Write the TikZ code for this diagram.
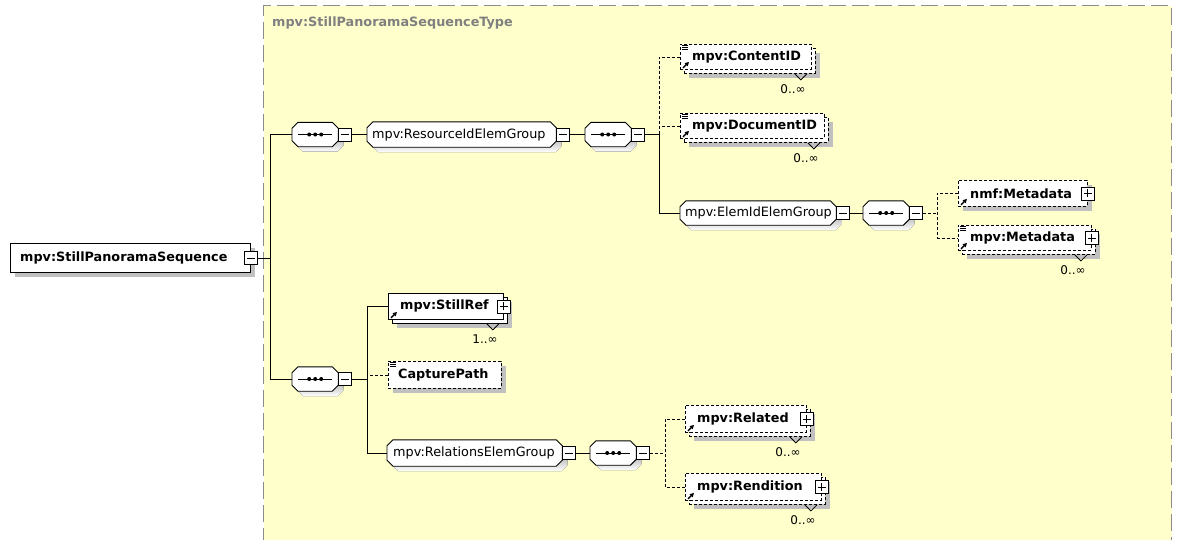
\documentclass[tikz,border=0pt]{standalone}
\usepackage{fontspec}
\setmainfont{DejaVu Sans}
\usetikzlibrary{shadows,arrows.meta}

\definecolor{panel}{HTML}{FFFFCC}
\definecolor{panelline}{HTML}{8C8C8C}
\definecolor{shade}{HTML}{C0C0C0}
\definecolor{titlegray}{HTML}{808080}

% outline of a box with cut corners, laid over node #1, moved by (#2,#2)
\newcommand\cutcornerpath[2]{%
  ([shift={(6+#2,#2)}]#1.north west) -- ([shift={(-6+#2,#2)}]#1.north east)
  -- ([shift={(#2,6+#2)}]#1.north east) -- ([shift={(#2,-6+#2)}]#1.south east)
  -- ([shift={(-6+#2,#2)}]#1.south east) -- ([shift={(6+#2,#2)}]#1.south west)
  -- ([shift={(#2,-6+#2)}]#1.south west) -- ([shift={(#2,6+#2)}]#1.north west) -- cycle}
% shadowed cut-corner frame for a compositor or group node
\newcommand\cutcornerframe[1]{%
  \fill[shade] \cutcornerpath{#1}{5};
  \filldraw[fill=white, line width=0.9pt] \cutcornerpath{#1}{0};}
% sequence symbol: a bar with three dots
\newcommand\seqsymbol[1]{%
  \draw[line width=1pt] ([xshift=6pt]#1.west) -- ([xshift=-6pt]#1.east);
  \foreach \d in {-6,0,6} \fill ([xshift=\d pt]#1.center) circle (2pt);}

\tikzset{
  shadowed/.style={drop shadow={shadow xshift=5pt,shadow yshift=-5pt,fill=shade,opacity=1}},
  panelbox/.style={rectangle, fill=panel, draw=panelline, line width=1pt,
    dash pattern=on 17pt off 6pt, inner sep=0pt, anchor=north west},
  box/.style={rectangle, draw, fill=white, inner sep=0pt, anchor=north west, line width=0.9pt},
  optbox/.style={box, dash pattern=on 3pt off 2pt},
  ename/.style={anchor=west, inner sep=0pt, font=\bfseries\fontsize{12.8}{15}\selectfont},
  gname/.style={anchor=west, inner sep=0pt, font=\fontsize{12.8}{15}\selectfont},
  mult/.style={anchor=base east, inner sep=0pt, font=\fontsize{12}{14}\selectfont},
  btn/.style={rectangle, draw, fill=white, minimum size=13pt, inner sep=0pt, line width=0.9pt},
  minusbtn/.style={btn, path picture={
      \draw[line width=0.9pt] ([xshift=2.5pt]path picture bounding box.west)
        -- ([xshift=-2.5pt]path picture bounding box.east);}},
  plusbtn/.style={btn, path picture={
      \draw[line width=0.9pt] ([xshift=2.5pt]path picture bounding box.west)
        -- ([xshift=-2.5pt]path picture bounding box.east);
      \draw[line width=0.9pt] ([yshift=-2.5pt]path picture bounding box.north)
        -- ([yshift=2.5pt]path picture bounding box.south);}},
  compositor/.style={rectangle, inner sep=0pt, anchor=west},
  seqbox/.style={compositor, minimum width=46pt, minimum height=24pt},
  wire/.style={line width=0.9pt},
  optwire/.style={wire, dash pattern=on 3pt off 2pt},
  docmark/.pic={\draw[line width=0.7pt] (0,0) -- (6,0) (0,2) -- (6,2) (0,4) -- (6,4);},
  refmark/.pic={\draw[line width=1.3pt, -{Triangle[length=4pt,width=4pt]}] (0,0) -- (6,-6);},
  notch/.pic={\draw[line width=0.8pt] (-6,0) -- (0,6) -- (6,0);},
}

\begin{document}
\begin{tikzpicture}[x=1pt,y=-1pt]
\useasboundingbox (0,0) rectangle (1179,539);
\fill[white] (0,0) rectangle (1179,539);

% complex type area
\node[panelbox, minimum width=908pt, minimum height=560pt] (typePanel) at (263,5) {};
\node[anchor=west, inner sep=0pt, text=titlegray,
      font=\bfseries\fontsize{12.8}{15}\selectfont] (typeTitle) at (272,23) {mpv:StillPanoramaSequenceType};

% root element
\node[box, shadowed, minimum width=240pt, minimum height=29pt] (root) at (10,243) {};
\node[ename] (rootT) at ([xshift=10pt]root.west) {mpv:StillPanoramaSequence};
\node[minusbtn] (rootB) at (root.east) {};

% first sequence
\node[seqbox] (seqA) at (292,134.5) {};
\cutcornerframe{seqA} \seqsymbol{seqA}
\node[minusbtn, anchor=west] (seqAB) at (seqA.east) {};

\node[compositor, minimum width=189pt, minimum height=25pt] (resG) at (367,134.5) {};
\cutcornerframe{resG}
\node[gname] (resGT) at ([xshift=5pt]resG.west) {mpv:ResourceIdElemGroup};
\node[minusbtn, anchor=west] (resGB) at (resG.east) {};

\node[seqbox] (seqC) at (585,134.5) {};
\cutcornerframe{seqC} \seqsymbol{seqC}
\node[minusbtn, anchor=west] (seqCB) at (seqC.east) {};

% mpv:ContentID
\node[optbox, shadowed, minimum width=131pt, minimum height=25pt] (cidB) at (684,48) {};
\node[optbox, minimum width=131pt, minimum height=25pt] (cidF) at (680,44) {};
\node[ename] (cidT) at ([xshift=12pt]cidF.west) {mpv:ContentID};
\pic at ([shift={(2,1.5)}]cidF.north west) {docmark};
\pic at ([shift={(3,-2)}]cidF.south west) {refmark};
\pic at ([xshift=-15pt]cidB.south east) {notch};
\node[mult] (cidM) at ([shift={(-10,20)}]cidB.south east) {0..∞};

% mpv:DocumentID
\node[optbox, shadowed, minimum width=144pt, minimum height=25pt] (didB) at (684,117) {};
\node[optbox, minimum width=144pt, minimum height=25pt] (didF) at (680,113) {};
\node[ename] (didT) at ([xshift=12pt]didF.west) {mpv:DocumentID};
\pic at ([shift={(2,1.5)}]didF.north west) {docmark};
\pic at ([shift={(3,-2)}]didF.south west) {refmark};
\pic at ([xshift=-15pt]didB.south east) {notch};
\node[mult] (didM) at ([shift={(-10,20)}]didB.south east) {0..∞};

% mpv:ElemIdElemGroup
\node[compositor, minimum width=156pt, minimum height=24pt] (elemG) at (680,213) {};
\cutcornerframe{elemG}
\node[gname] (elemGT) at ([xshift=5pt]elemG.west) {mpv:ElemIdElemGroup};
\node[minusbtn, anchor=west] (elemGB) at (elemG.east) {};

\node[seqbox] (seqD) at (863,213) {};
\cutcornerframe{seqD} \seqsymbol{seqD}
\node[minusbtn, anchor=west] (seqDB) at (seqD.east) {};

% nmf:Metadata
\node[optbox, shadowed, minimum width=129pt, minimum height=26pt] (nmfF) at (958,180) {};
\node[ename] (nmfT) at ([xshift=12pt]nmfF.west) {nmf:Metadata};
\pic at ([shift={(3,-2)}]nmfF.south west) {refmark};
\node[plusbtn] (nmfP) at (nmfF.east) {};

% mpv:Metadata
\node[optbox, shadowed, minimum width=133pt, minimum height=25pt] (mmetaB) at (962,229) {};
\node[optbox, minimum width=133pt, minimum height=25pt] (mmetaF) at (958,225) {};
\node[ename] (mmetaT) at ([xshift=12pt]mmetaF.west) {mpv:Metadata};
\pic at ([shift={(2,1.5)}]mmetaF.north west) {docmark};
\pic at ([shift={(3,-2)}]mmetaF.south west) {refmark};
\node[plusbtn] (mmetaP) at (mmetaF.east) {};
\pic at ([xshift=-15pt]mmetaB.south east) {notch};
\node[mult] (mmetaM) at ([shift={(-10,20)}]mmetaB.south east) {0..∞};

% second sequence
\node[seqbox] (seqB) at (292,379) {};
\cutcornerframe{seqB} \seqsymbol{seqB}
\node[minusbtn, anchor=west] (seqBB) at (seqB.east) {};

% mpv:StillRef
\node[box, shadowed, minimum width=115pt, minimum height=26pt] (srefB) at (392,297) {};
\node[box, minimum width=115pt, minimum height=26pt] (srefF) at (388,293) {};
\node[ename] (srefT) at ([xshift=12pt]srefF.west) {mpv:StillRef};
\pic at ([shift={(3,-2)}]srefF.south west) {refmark};
\node[plusbtn] (srefP) at (srefF.east) {};
\pic at ([xshift=-15pt]srefB.south east) {notch};
\node[mult] (srefM) at ([shift={(-10,20)}]srefB.south east) {1..∞};

% CapturePath
\node[optbox, shadowed, minimum width=113pt, minimum height=27pt] (capF) at (388,361) {};
\node[ename] (capT) at ([xshift=10pt]capF.west) {CapturePath};
\pic at ([shift={(2,1.5)}]capF.north west) {docmark};

% mpv:RelationsElemGroup
\node[compositor, minimum width=175pt, minimum height=26pt] (relG) at (387,453) {};
\cutcornerframe{relG}
\node[gname] (relGT) at ([xshift=6pt]relG.west) {mpv:RelationsElemGroup};
\node[minusbtn, anchor=west] (relGB) at (relG.east) {};

\node[seqbox] (seqE) at (590,453) {};
\cutcornerframe{seqE} \seqsymbol{seqE}
\node[minusbtn, anchor=west] (seqEB) at (seqE.east) {};

% mpv:Related
\node[optbox, shadowed, minimum width=121pt, minimum height=27pt] (relB) at (689,409) {};
\node[optbox, minimum width=121pt, minimum height=27pt] (relF) at (685,405) {};
\node[ename] (relT) at ([xshift=12pt]relF.west) {mpv:Related};
\pic at ([shift={(3,-2)}]relF.south west) {refmark};
\node[plusbtn] (relP) at (relF.east) {};
\pic at ([xshift=-15pt]relB.south east) {notch};
\node[mult] (relM) at ([shift={(-10,20)}]relB.south east) {0..∞};

% mpv:Rendition
\node[optbox, shadowed, minimum width=136pt, minimum height=27pt] (rendB) at (689,477) {};
\node[optbox, minimum width=136pt, minimum height=27pt] (rendF) at (685,473) {};
\node[ename] (rendT) at ([xshift=12pt]rendF.west) {mpv:Rendition};
\pic at ([shift={(3,-2)}]rendF.south west) {refmark};
\node[plusbtn] (rendP) at (rendF.east) {};
\pic at ([xshift=-15pt]rendB.south east) {notch};
\node[mult] (rendM) at ([shift={(-10,20)}]rendB.south east) {0..∞};

% branch points
\coordinate (trunkA) at (270,0);
\coordinate (trunkB) at (367,0);
\coordinate (trunkC) at (659,0);
\coordinate (trunkD) at (937,0);
\coordinate (trunkE) at (665,0);

% connectors
\draw[wire] (rootB.east) -- (rootB.east -| trunkA);
\draw[wire] (seqA.west) -| (trunkA |- seqB.west) -- (seqB.west);
\draw[wire] (seqAB.east) -- (resG.west);
\draw[wire] (resGB.east) -- (seqC.west);
\draw[wire] (seqCB.east) -- (seqCB.east -| trunkC) |- (elemG.west);
\draw[optwire] (cidF.west) -| (trunkC |- seqCB.east);
\draw[optwire] (didF.west) -- (didF.west -| trunkC);
\draw[wire] (elemGB.east) -- (seqD.west);
\draw[optwire] (seqDB.east) -- (seqDB.east -| trunkD);
\draw[optwire] (nmfF.west) -| (trunkD |- mmetaF.west) -- (mmetaF.west);
\draw[wire] (seqBB.east) -- (seqBB.east -| trunkB);
\draw[wire] (srefF.west) -| (trunkB |- relG.west) -- (relG.west);
\draw[optwire] (capF.west) -- (capF.west -| trunkB);
\draw[wire] (relGB.east) -- (seqE.west);
\draw[optwire] (seqEB.east) -- (seqEB.east -| trunkE);
\draw[optwire] (relF.west) -| (trunkE |- rendF.west) -- (rendF.west);
\end{tikzpicture}
\end{document}
